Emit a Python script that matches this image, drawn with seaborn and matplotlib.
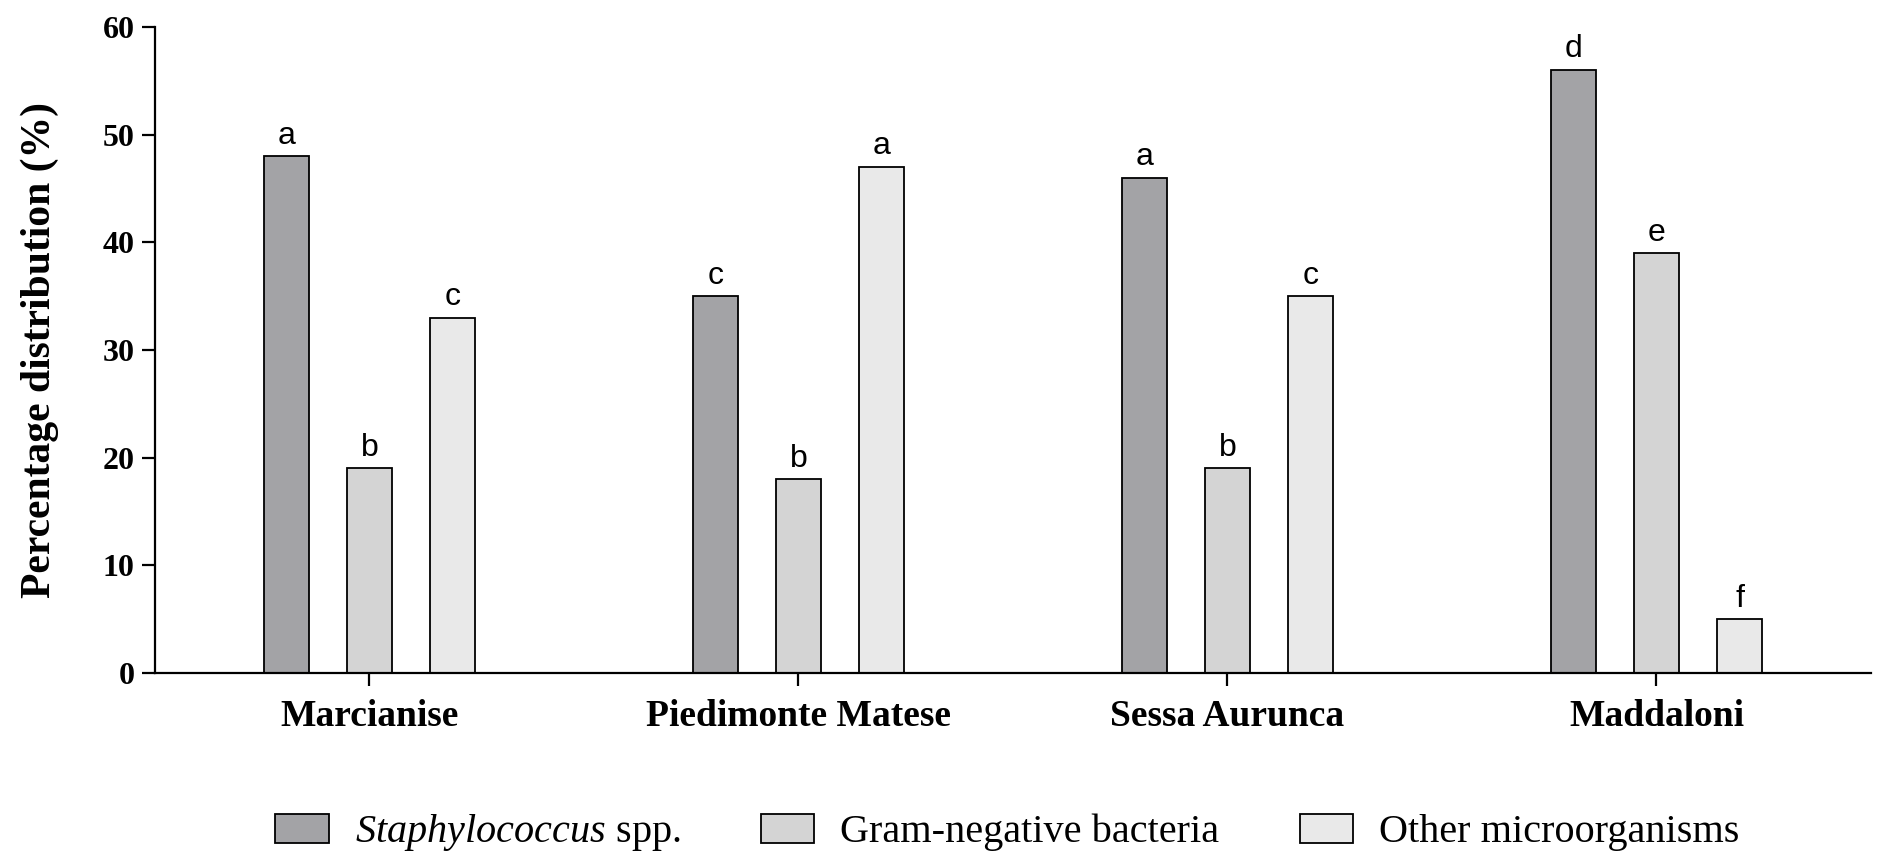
import pandas as pd
import seaborn as sns
import matplotlib.pyplot as plt

sites = ["Marcianise", "Piedimonte Matese", "Sessa Aurunca", "Maddaloni"]
groups = ["Staphylococcus spp.", "Gram-negative bacteria", "Other microorganisms"]
staph = [48, 35, 46, 56]
gram_neg = [19, 18, 19, 39]
other = [33, 47, 35, 5]
letters_staph = ["a", "c", "a", "d"]
letters_gram = ["b", "b", "b", "e"]
letters_other = ["c", "a", "c", "f"]
legend_labels = [r"$\mathit{Staphylococcus}$ spp.", "Gram-negative bacteria", "Other microorganisms"]
colors = ["#a3a2a7", "#d4d4d4", "#e9e9e9"]

df = pd.DataFrame({
    "Site": sites * 3,
    "Group": [groups[0]] * 4 + [groups[1]] * 4 + [groups[2]] * 4,
    "Value": staph + gram_neg + other,
})

sns.set_style("ticks")
plt.rcParams["font.family"] = ["Liberation Serif", "DejaVu Serif"]
plt.rcParams["mathtext.fontset"] = "custom"
plt.rcParams["mathtext.it"] = "Liberation Serif:italic"
plt.rcParams["mathtext.rm"] = "Liberation Serif"
for key in ["text.color", "axes.labelcolor", "xtick.color", "ytick.color", "axes.edgecolor"]:
    plt.rcParams[key] = "black"

fig = plt.figure(figsize=(18.87, 8.65), dpi=100)
ax = fig.add_axes([0.0821, 0.222, 0.9094, 0.7468])

sns.barplot(
    data=df, x="Site", y="Value", hue="Group",
    order=sites, hue_order=groups, palette=colors,
    width=0.582, gap=0.46, edgecolor="black", linewidth=1.3,
    errorbar=None, ax=ax,
)

handles, _ = ax.get_legend_handles_labels()
ax.get_legend().remove()

for cont, labs in zip(ax.containers, [letters_staph, letters_gram, letters_other]):
    ax.bar_label(cont, labels=labs, padding=4, fontsize=23,
                 family="Liberation Sans", color="black")

ax.set_xlim(-0.5, 3.5)
ax.set_ylim(0, 60)
ax.set_yticks(range(0, 61, 10))
ax.set_xlabel("")
ax.set_ylabel("Percentage distribution (%)", fontsize=30, fontweight="bold")
ax.yaxis.set_label_coords(-0.056, 0.5)

sns.despine(ax=ax)
for sp in ["left", "bottom"]:
    ax.spines[sp].set_linewidth(1.6)
ax.tick_params(axis="both", width=1.6, length=9.5)
ax.tick_params(axis="y", labelsize=23, pad=5)
ax.tick_params(axis="x", labelsize=27, pad=9)
for t in ax.get_xticklabels() + ax.get_yticklabels():
    t.set_fontweight("bold")

for h in handles:
    h.set_edgecolor("black")
    h.set_linewidth(1.3)

fig.legend(
    handles, legend_labels, loc="center", bbox_to_anchor=(0.534, 0.037),
    ncol=3, frameon=False, fontsize=29, handlelength=1.32, handleheight=0.74,
    handletextpad=0.65, columnspacing=2.0,
)

fig.savefig("out.png", dpi=100)
